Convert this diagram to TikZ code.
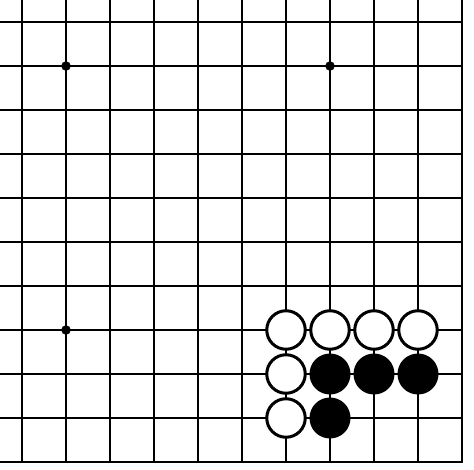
\documentclass[tikz,border=0pt]{standalone}
\begin{document}
\begin{tikzpicture}[x=1pt,y=-1pt,
  gridline/.style={line width=1.4pt,black},
  edgeline/.style={line width=2.6pt,black,line cap=rect},
  wstone/.style={circle,draw=black,fill=white,line width=3pt,minimum size=38.5pt,inner sep=0pt},
  bstone/.style={circle,fill=black,minimum size=41pt,inner sep=0pt},
  hoshi/.style={circle,fill=black,minimum size=9.5pt,inner sep=0pt}]
\useasboundingbox[fill=white] (0,0) rectangle (474,470);
\foreach \k in {0,...,9} {
  \draw[gridline] ({22+44*\k},0) -- ({22+44*\k},462);
  \draw[gridline] (0,{22+44*\k}) -- (462,{22+44*\k});
}
\draw[edgeline] (462,0) -- (462,462) -- (0,462);
\node[hoshi] (s1) at (66,66) {};
\node[hoshi] (s2) at (330,66) {};
\node[hoshi] (s3) at (66,330) {};
\node[wstone] (w1) at (286,330) {};
\node[wstone] (w2) at (330,330) {};
\node[wstone] (w3) at (374,330) {};
\node[wstone] (w4) at (418,330) {};
\node[wstone] (w5) at (286,374) {};
\node[wstone] (w6) at (286,418) {};
\node[bstone] (b1) at (330,374) {};
\node[bstone] (b2) at (374,374) {};
\node[bstone] (b3) at (418,374) {};
\node[bstone] (b4) at (330,418) {};
\end{tikzpicture}
\end{document}
